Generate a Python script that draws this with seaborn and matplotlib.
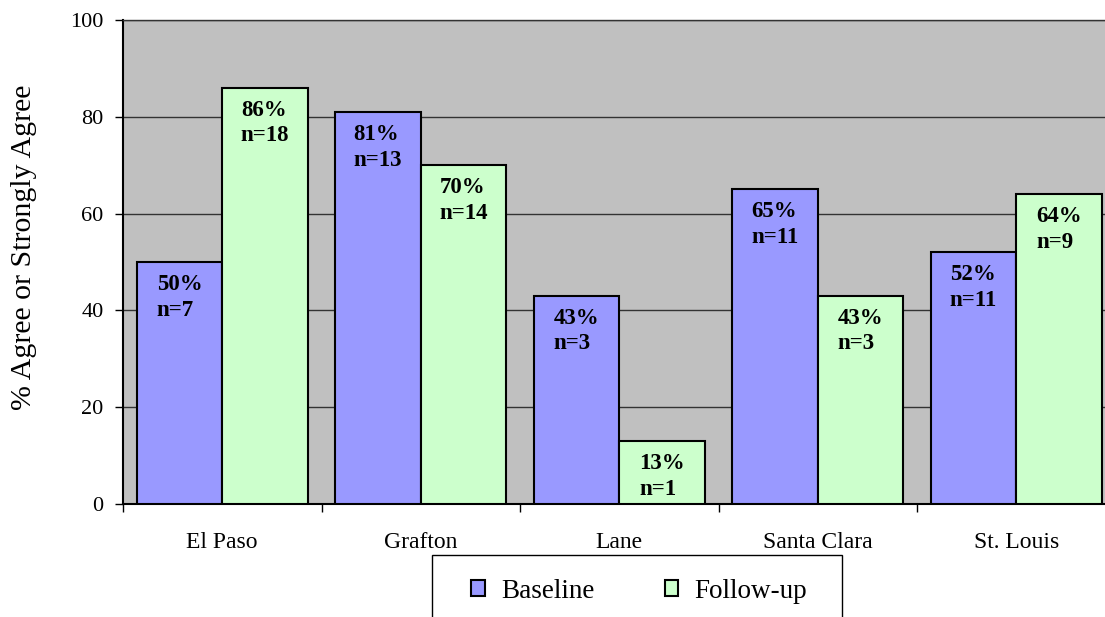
import pandas as pd
import numpy as np
import seaborn as sns
import matplotlib.pyplot as plt

# chart data
sites = ['El Paso', 'Grafton', 'Lane', 'Santa Clara', 'St. Louis']
baseline = [50, 81, 43, 65, 52]
baseline_n = [7, 13, 3, 11, 11]
followup = [86, 70, 13, 43, 64]
followup_n = [18, 14, 1, 3, 9]

df = pd.DataFrame({
    'site': sites * 2,
    'pct': baseline + followup,
    'n': baseline_n + followup_n,
    'wave': ['Baseline'] * 5 + ['Follow-up'] * 5,
})

sns.set_style('white')
plt.rcParams['font.family'] = ['Liberation Serif', 'DejaVu Serif']
plt.rcParams['text.color'] = 'black'
plt.rcParams['axes.labelcolor'] = 'black'
plt.rcParams['xtick.color'] = 'black'
plt.rcParams['ytick.color'] = 'black'

fig = plt.figure(figsize=(11.05, 6.17), dpi=100)
# the plot area runs past the right edge of the picture, as in the original
ax = fig.add_axes([123 / 1105, 1 - 504 / 617, 992.5 / 1105, 484 / 617])
ax.set_facecolor('#C0C0C0')

sns.barplot(data=df, x='site', y='pct', hue='wave', order=sites,
            palette=['#9999FF', '#CCFFCC'], edgecolor='black', linewidth=1.5,
            width=0.862, gap=0, saturation=1, ax=ax, zorder=3, legend=True)

# labels inside the bars
for cont, ns in zip(ax.containers, [baseline_n, followup_n]):
    for bar, n in zip(cont, ns):
        h = bar.get_height()
        ax.annotate(f'{h:.0f}%\nn={n}', (bar.get_x() + bar.get_width() / 2, h),
                    xytext=(0, -8.5), textcoords='offset points', ha='center',
                    va='top', multialignment='left', fontsize=16.5,
                    fontweight='bold', linespacing=1.3, zorder=4)

ax.set_ylim(0, 100)
ax.set_xlim(-0.5, 4.5)
ax.set_yticks([0, 20, 40, 60, 80, 100])
ax.yaxis.grid(True, color='#333333', linewidth=1, zorder=0)
ax.set_axisbelow(True)
ax.tick_params(axis='y', labelsize=16, direction='out', length=6, width=1,
               color='black', left=True, pad=8)
ax.set_xticks(np.arange(-0.5, 5, 1), minor=True)
ax.tick_params(axis='x', which='major', length=0, labelsize=17, pad=20)
ax.tick_params(axis='x', which='minor', length=6, width=1, color='black',
               direction='out', bottom=True)
ax.set_xlabel('')
ax.set_ylabel('% Agree or Strongly Agree', fontsize=21.5, labelpad=24, y=0.53)

for s in ['left', 'bottom']:
    ax.spines[s].set_color('black')
    ax.spines[s].set_linewidth(1.5)
ax.spines['top'].set_color('#333333')
ax.spines['top'].set_linewidth(1)
ax.spines['right'].set_visible(False)

handles, labels = ax.get_legend_handles_labels()
ax.legend(handles, labels, loc='center left',
          bbox_to_anchor=(471 / 1105, 1 - 591 / 617),
          bbox_transform=fig.transFigure, ncol=2, fontsize=19.5,
          frameon=False, handlelength=0.5, handleheight=0.5,
          handletextpad=0.6, columnspacing=2.6, borderpad=0, borderaxespad=0)
fig.patches.append(plt.Rectangle((432 / 1105, -0.1), 410 / 1105,
                                 0.1 + 62 / 617, transform=fig.transFigure,
                                 fill=False, edgecolor='black', linewidth=1))

fig.savefig('out.png', dpi=100)
